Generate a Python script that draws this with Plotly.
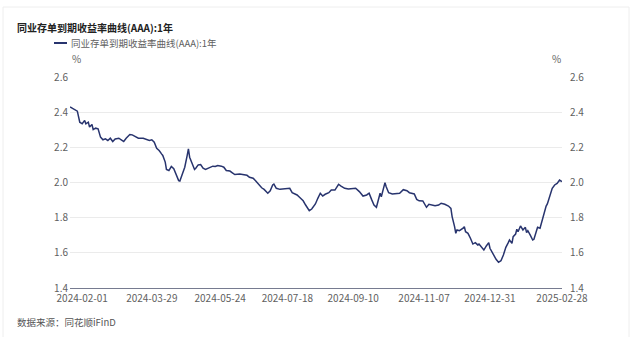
import plotly.graph_objects as go

# ---------------- data ----------------
dates = [
    "2024-01-22", "2024-01-26", "2024-01-28", "2024-01-30", "2024-02-01", "2024-02-03",
    "2024-02-04", "2024-02-06", "2024-02-07", "2024-02-09", "2024-02-10", "2024-02-12",
    "2024-02-14", "2024-02-16", "2024-02-18", "2024-02-20", "2024-02-22", "2024-02-24",
    "2024-02-26", "2024-02-28", "2024-03-02", "2024-03-04", "2024-03-06", "2024-03-08",
    "2024-03-11", "2024-03-13", "2024-03-16", "2024-03-18", "2024-03-22", "2024-03-25",
    "2024-03-27", "2024-03-29", "2024-03-31", "2024-04-02", "2024-04-04", "2024-04-06",
    "2024-04-07", "2024-04-09", "2024-04-10", "2024-04-12", "2024-04-14", "2024-04-16",
    "2024-04-18", "2024-04-20", "2024-04-21", "2024-04-22", "2024-04-25", "2024-04-27",
    "2024-04-28", "2024-04-29", "2024-05-01", "2024-05-03", "2024-05-04", "2024-05-06",
    "2024-05-08", "2024-05-10", "2024-05-12", "2024-05-14", "2024-05-16", "2024-05-18",
    "2024-05-20", "2024-05-22", "2024-05-25", "2024-05-27", "2024-05-29", "2024-06-01",
    "2024-06-03", "2024-06-05", "2024-06-09", "2024-06-12", "2024-06-15", "2024-06-17",
    "2024-06-20", "2024-06-22", "2024-06-25", "2024-06-27", "2024-06-29", "2024-07-02",
    "2024-07-04", "2024-07-06", "2024-07-07", "2024-07-09", "2024-07-12", "2024-07-15",
    "2024-07-17", "2024-07-20", "2024-07-22", "2024-07-26", "2024-07-28", "2024-07-31",
    "2024-08-02", "2024-08-05", "2024-08-07", "2024-08-10", "2024-08-12", "2024-08-14",
    "2024-08-16", "2024-08-18", "2024-08-21", "2024-08-23", "2024-08-26", "2024-08-29",
    "2024-08-31", "2024-09-03", "2024-09-06", "2024-09-09", "2024-09-12", "2024-09-15",
    "2024-09-18", "2024-09-21", "2024-09-23", "2024-09-25", "2024-09-27", "2024-09-29",
    "2024-09-30", "2024-10-02", "2024-10-03", "2024-10-05", "2024-10-06", "2024-10-07",
    "2024-10-09", "2024-10-12", "2024-10-15", "2024-10-18", "2024-10-21", "2024-10-24",
    "2024-10-26", "2024-10-30", "2024-11-01", "2024-11-03", "2024-11-06", "2024-11-08",
    "2024-11-09", "2024-11-11", "2024-11-13", "2024-11-16", "2024-11-19", "2024-11-21",
    "2024-11-24", "2024-11-27", "2024-11-29", "2024-11-30", "2024-12-02", "2024-12-03",
    "2024-12-04", "2024-12-06", "2024-12-09", "2024-12-10", "2024-12-11", "2024-12-13",
    "2024-12-15", "2024-12-17", "2024-12-19", "2024-12-21", "2024-12-22", "2024-12-24",
    "2024-12-26", "2024-12-28", "2024-12-30", "2024-12-31", "2025-01-02", "2025-01-04",
    "2025-01-05", "2025-01-07", "2025-01-09", "2025-01-11", "2025-01-13", "2025-01-15",
    "2025-01-16", "2025-01-18", "2025-01-19", "2025-01-21", "2025-01-22", "2025-01-23",
    "2025-01-25", "2025-01-27", "2025-01-29", "2025-01-30", "2025-01-31", "2025-02-02",
    "2025-02-04", "2025-02-05", "2025-02-07", "2025-02-08", "2025-02-10", "2025-02-11",
    "2025-02-13", "2025-02-15", "2025-02-16", "2025-02-18", "2025-02-20", "2025-02-22",
    "2025-02-24", "2025-02-26", "2025-02-28",
]
yields = [
    2.430, 2.415, 2.406, 2.343, 2.334, 2.353,
    2.334, 2.343, 2.315, 2.330, 2.301, 2.309,
    2.305, 2.258, 2.243, 2.248, 2.239, 2.252,
    2.233, 2.248, 2.252, 2.243, 2.233, 2.252,
    2.273, 2.271, 2.258, 2.252, 2.252, 2.245,
    2.239, 2.243, 2.229, 2.195, 2.182, 2.163,
    2.154, 2.116, 2.074, 2.068, 2.091, 2.078,
    2.049, 2.011, 2.008, 2.030, 2.087, 2.154,
    2.191, 2.144, 2.106, 2.074, 2.081, 2.100,
    2.102, 2.081, 2.074, 2.081, 2.087, 2.093,
    2.091, 2.097, 2.093, 2.087, 2.068, 2.065,
    2.055, 2.045, 2.048, 2.043, 2.041, 2.030,
    2.024, 2.010, 1.986, 1.970, 1.961, 1.939,
    1.953, 1.986, 1.991, 1.967, 1.961, 1.963,
    1.963, 1.967, 1.942, 1.929, 1.916, 1.896,
    1.872, 1.840, 1.849, 1.878, 1.910, 1.939,
    1.923, 1.933, 1.942, 1.957, 1.957, 1.990,
    1.980, 1.967, 1.963, 1.967, 1.967, 1.948,
    1.923, 1.929, 1.939, 1.904, 1.872, 1.859,
    1.882, 1.939, 1.919, 1.967, 1.999, 1.976,
    1.942, 1.935, 1.939, 1.939, 1.959, 1.953,
    1.942, 1.935, 1.904, 1.896, 1.895, 1.866,
    1.859, 1.876, 1.872, 1.868, 1.872, 1.882,
    1.876, 1.866, 1.853, 1.806, 1.749, 1.711,
    1.730, 1.726, 1.740, 1.749, 1.720, 1.711,
    1.683, 1.650, 1.658, 1.645, 1.650, 1.631,
    1.616, 1.639, 1.658, 1.626, 1.597, 1.575,
    1.563, 1.546, 1.555, 1.588, 1.631, 1.658,
    1.673, 1.654, 1.692, 1.707, 1.734, 1.720,
    1.753, 1.730, 1.745, 1.715, 1.726, 1.701,
    1.673, 1.677, 1.720, 1.745, 1.740, 1.768,
    1.825, 1.866, 1.878, 1.929, 1.967, 1.986,
    1.995, 2.014, 2.005,
]
tick_labels = ["2024-02-01", "2024-03-29", "2024-05-24", "2024-07-18",
               "2024-09-10", "2024-11-07", "2024-12-31", "2025-02-28"]
y_ticks = [1.4, 1.6, 1.8, 2.0, 2.2, 2.4, 2.6]

title_text = "同业存单到期收益率曲线(AAA):1年"
series_name = "同业存单到期收益率曲线(AAA):1年"
unit = "%"
source_text = "数据来源：同花顺iFinD"

# ---------------- styling ----------------
W, H = 640, 337
L, R, T, B = 70, 562, 77, 288          # plot area in pixels
FONT = "Noto Sans CJK SC"
LINE_COLOR = "#28346e"
GRID = "#ebebeb"
AXIS = "#767b90"
TICK_COLOR = "#5f5f5f"


def px2x(px):
    return (px - L) / (R - L)


def py2y(py):
    return (B - py) / (B - T)


fig = go.Figure()
fig.add_trace(go.Scatter(
    x=dates, y=yields, mode="lines", name=series_name,
    line=dict(color=LINE_COLOR, width=1.5), showlegend=False,
))
# invisible copy so the right-hand axis is drawn
fig.add_trace(go.Scatter(
    x=dates, y=yields, mode="lines", yaxis="y2", opacity=0,
    line=dict(width=0), showlegend=False, hoverinfo="skip",
))

fig.update_layout(
    width=W, height=H, autosize=False,
    margin=dict(l=L, r=W - R, t=T, b=H - B, pad=0),
    paper_bgcolor="white", plot_bgcolor="white",
    font=dict(family=FONT, size=10, color=TICK_COLOR),
    xaxis=dict(
        type="date", range=[dates[0], dates[-1]],
        tickmode="array", tickvals=tick_labels, ticktext=tick_labels,
        showgrid=False, zeroline=False, showline=True, linecolor=AXIS,
        linewidth=1, ticks="", tickfont=dict(size=10, color=TICK_COLOR),
        ticklabelstandoff=1,
    ),
    yaxis=dict(
        range=[y_ticks[0], y_ticks[-1]], tickmode="array", tickvals=y_ticks,
        ticktext=[f"{v:.1f}" for v in y_ticks],
        showgrid=True, gridcolor=GRID, gridwidth=1, zeroline=False,
        showline=False, ticks="", tickfont=dict(size=10, color=TICK_COLOR),
        ticklabelstandoff=1,
    ),
    yaxis2=dict(
        range=[y_ticks[0], y_ticks[-1]], tickmode="array", tickvals=y_ticks,
        ticktext=[f"{v:.1f}" for v in y_ticks],
        overlaying="y", side="right", showgrid=False, zeroline=False,
        showline=False, ticks="", tickfont=dict(size=10, color=TICK_COLOR),
        ticklabelstandoff=7,
    ),
    shapes=[
        # card outline
        dict(type="rect", xref="paper", yref="paper",
             x0=px2x(3), x1=px2x(629), y0=py2y(345), y1=py2y(7),
             line=dict(color="#eeeeee", width=1), fillcolor="rgba(0,0,0,0)",
             layer="below"),
        # legend swatch
        dict(type="line", xref="paper", yref="paper",
             x0=px2x(54), x1=px2x(67), y0=py2y(43), y1=py2y(43),
             line=dict(color=LINE_COLOR, width=2)),
    ],
    annotations=[
        dict(text=f"<b>{title_text}</b>", xref="paper", yref="paper",
             x=px2x(15), y=py2y(27), xanchor="left", yanchor="middle",
             showarrow=False, font=dict(family=FONT, size=10, color="#222222")),
        dict(text=series_name, xref="paper", yref="paper",
             x=px2x(69), y=py2y(43), xanchor="left", yanchor="middle",
             showarrow=False, font=dict(family=FONT, size=9.5, color=TICK_COLOR)),
        dict(text=unit, xref="paper", yref="paper",
             x=px2x(70), y=py2y(58), xanchor="left", yanchor="middle",
             showarrow=False, font=dict(family=FONT, size=10, color=TICK_COLOR)),
        dict(text=unit, xref="paper", yref="paper",
             x=px2x(563), y=py2y(58), xanchor="right", yanchor="middle",
             showarrow=False, font=dict(family=FONT, size=10, color=TICK_COLOR)),
        dict(text=source_text, xref="paper", yref="paper",
             x=px2x(15), y=py2y(322), xanchor="left", yanchor="middle",
             showarrow=False, font=dict(family=FONT, size=9.5, color="#555555")),
    ],
)

fig.write_html("out.html")
